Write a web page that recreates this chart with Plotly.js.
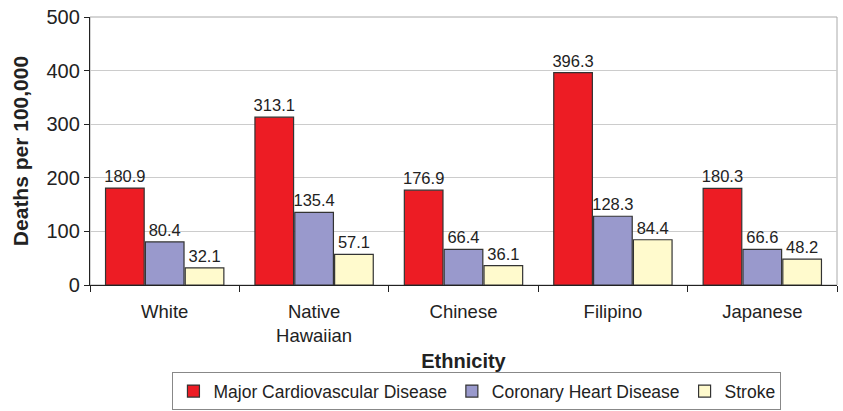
<!DOCTYPE html>
<html>
<head>
<meta charset="utf-8">
<script src="https://cdn.plot.ly/plotly-3.0.1.min.js"></script>
<style>html,body{margin:0;padding:0;background:#fff;}#chart{width:843px;height:411px;}</style>
</head>
<body>
<div id="chart"></div>
<script>
const categories = ["White", "Native<br>Hawaiian", "Chinese", "Filipino", "Japanese"];
const seriesNames = ["Major Cardiovascular Disease", "Coronary Heart Disease", "Stroke"];
const majorCVD = [180.9, 313.1, 176.9, 396.3, 180.3];
const coronary = [80.4, 135.4, 66.4, 128.3, 66.6];
const stroke = [32.1, 57.1, 36.1, 84.4, 48.2];
const colors = ["#ED1C24", "#9999CC", "#FFFACD"];
const values = [majorCVD, coronary, stroke];

const FONT = "Liberation Sans, Arial, sans-serif";
const traces = values.map((v, i) => ({
  type: "bar",
  name: seriesNames[i],
  x: categories,
  y: v,
  text: v.map(d => d.toFixed(1)),
  textposition: "outside",
  constraintext: "none",
  textfont: {family: FONT, size: 16.5, color: "#222"},
  cliponaxis: false,
  marker: {color: colors[i], line: {color: "#333", width: 1.2}},
  hoverinfo: "x+y"
}));

const layout = {
  width: 843, height: 411,
  margin: {l: 90, r: 6, t: 17, b: 126},
  paper_bgcolor: "#fff", plot_bgcolor: "#fff",
  font: {family: FONT, color: "#222", size: 18},
  barmode: "group",
  bargap: 0.2,
  bargroupgap: 0.03,
  showlegend: true,
  legend: {
    orientation: "h", xref: "paper", x: 0.518, xanchor: "center",
    yref: "container", y: 0.002, yanchor: "bottom",
    bordercolor: "#888", borderwidth: 1,
    font: {family: FONT, size: 17.5, color: "#222"},
    itemwidth: 30, tracegroupgap: 0
  },
  xaxis: {
    type: "category",
    showgrid: false,
    showline: true, linecolor: "#222", linewidth: 1.2,
    ticks: "outside", ticklen: 6, tickcolor: "#222", tickson: "boundaries",
    ticklabelstandoff: 10,
    tickfont: {family: FONT, size: 18.5, color: "#222"},
    title: {text: "<b>Ethnicity</b>", font: {family: FONT, size: 20, color: "#222"}, standoff: 8}
  },
  yaxis: {
    range: [0, 500], dtick: 100,
    showgrid: true, gridcolor: "#cccccc", gridwidth: 1,
    showline: true, linecolor: "#222", linewidth: 1.2,
    ticks: "outside", ticklen: 5, tickcolor: "#222",
    tickfont: {family: FONT, size: 20, color: "#222"},
    zeroline: false,
    title: {text: "<b>Deaths per 100,000</b>", font: {family: FONT, size: 21, color: "#222"}, standoff: 12}
  },
  shapes: [{
    type: "rect", xref: "paper", yref: "paper", x0: 0, x1: 1, y0: 0, y1: 1,
    line: {color: "#aaaaaa", width: 1}, layer: "below"
  }]
};

Plotly.newPlot("chart", traces, layout, {displayModeBar: false, staticPlot: true});
</script>
</body>
</html>
